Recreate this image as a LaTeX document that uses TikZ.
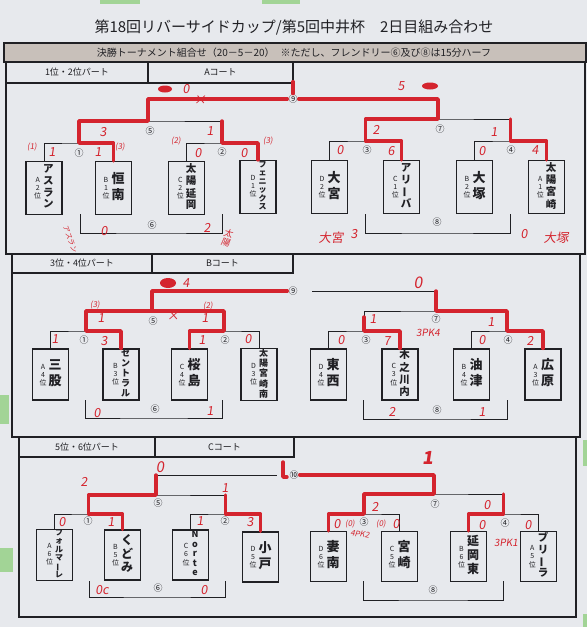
\documentclass[tikz,border=0pt]{standalone}
\usepackage{fontspec}
\usepackage{graphicx}
\setmainfont{Noto Sans CJK JP}
\newfontfamily\redhand[FakeSlant=0.15]{Noto Sans CJK JP}
\definecolor{paper}{RGB}{231,233,237}
\definecolor{band}{RGB}{200,192,186}
\definecolor{ink}{RGB}{32,32,36}
\definecolor{pen}{RGB}{212,36,46}
\definecolor{tape}{RGB}{162,212,150}
\newcommand\vl{\rotatebox[origin=c]{90}{ー}}
\newcommand\tm[5]{%
  {\fontsize{7}{8}\selectfont\begin{tabular}{@{}c@{}}#1\\#2\\位\end{tabular}}%
  \hspace{2pt}%
  {\bfseries\fontsize{#3}{#4}\selectfont\begin{tabular}{@{}c@{}}#5\end{tabular}}}
\tikzset{
  sheet/.style={draw=ink, line width=1.2pt},
  cell/.style={draw=ink, line width=1.1pt},
  hdr/.style={text=ink, font=\fontsize{9}{9}\selectfont, inner sep=1pt},
  brk/.style={draw=ink, line width=0.9pt},
  team/.style={draw=ink, line width=1.2pt, minimum width=36pt, minimum height=52pt, inner sep=0pt, text=ink},
  num/.style={text=ink, font=\fontsize{9}{9}\selectfont, inner sep=1pt},
  win/.style={draw=pen, line width=3.4pt, line join=round, line cap=round},
  score/.style={text=pen, font=\redhand\fontsize{12.5}{12.5}\selectfont, inner sep=0pt},
  small/.style={text=pen, font=\redhand\fontsize{8}{8}\selectfont, inner sep=0pt}
}

\begin{document}
\begin{tikzpicture}[x=1pt,y=-1pt]
		%%%%% START %%%%%
		
		\fill[paper] (0,0) rectangle (587,627);
		\useasboundingbox (0,0) rectangle (587,627);
		
		\fill[tape] (100,0) rectangle (140,4);
		\fill[tape] (262,0) rectangle (300,4);
		\fill[tape] (0,395) rectangle (9,424);
		\fill[tape] (0,548) rectangle (13,572);
		\fill[tape] (583,440) rectangle (587,466);
		\fill[tape] (583,614) rectangle (587,627);
		
		\node[text=ink, font=\fontsize{15}{15}\selectfont] (title) at (294,28) {第18回リバーサイドカップ/第5回中井杯\hspace{1em}2日目組み合わせ};
		\draw[cell, fill=band] (4,43) rectangle (586,62);
		\node[text=ink, font=\fontsize{10}{10}\selectfont] (rule) at (294,52.5) {決勝トーナメント組合せ（20－5－20）\hspace{0.6em}※ただし、フレンドリー⑥及び⑧は15分ハーフ};
		
		%%%%% A %%%%%
		\draw[sheet] (6,62) rectangle (585,254);
		\draw[cell] (6,62) rectangle (148,83);
		\draw[cell] (148,62) rectangle (293,83);
		\node[hdr] (partA) at (77,72.5) {1位・2位パート};
		\node[hdr] (courtA) at (220.5,72.5) {Aコート};
		
		\node[team, minimum height=53pt] (a1) at (44,188) {\tm{A}{2}{10.5}{11.5}{ア\\ス\\ラ\\ン}};
		\node[team, minimum height=53pt] (a2) at (113.5,188) {\tm{B}{1}{13}{16}{恒\\南}};
		\node[team, minimum height=53pt] (a3) at (186.5,188) {\tm{C}{2}{10.5}{11.5}{太\\陽\\延\\岡}};
		\node[team, minimum height=53pt] (a4) at (258,187) {\tm{D}{1}{8}{8.2}{フ\\ェ\\ニ\\ッ\\ク\\ス}};
		\node[team, minimum height=53pt] (b1) at (329.5,187) {\tm{D}{2}{13}{16}{大\\宮}};
		\node[team, minimum height=53pt] (b2) at (401.5,187) {\tm{C}{1}{10.5}{11.5}{ア\\リ\\\vl\\バ}};
		\node[team, minimum height=53pt] (b3) at (474.5,187) {\tm{B}{2}{13}{16}{大\\塚}};
		\node[team, minimum height=53pt] (b4) at (546.5,187) {\tm{A}{1}{10.5}{11.5}{太\\陽\\宮\\崎}};
		
		\coordinate (jA1) at (79,143);
		\coordinate (jA2) at (222,143);
		\coordinate (sA5) at (148,121);
		\coordinate (jA3) at (365.5,141);
		\coordinate (jA4) at (510.5,141);
		\coordinate (sA7) at (438,119);
		\node[num] (nA9) at (293,99) {⑨};
		
		\draw[brk] (a1.north) |- (jA1) -| (a2.north);
		\draw[brk] (a3.north) |- (jA2) -| (a4.north);
		\draw[brk] (jA1) |- (sA5) -| (jA2);
		\draw[brk] (sA5) |- (nA9.west);
		\draw[brk] (b1.north) |- (jA3) -| (b2.north);
		\draw[brk] (b3.north) |- (jA4) -| (b4.north);
		\draw[brk] (jA3) |- (sA7) -| (jA4);
		\draw[brk] (sA7) |- (nA9.east);
		
		\coordinate (fA6a) at (80,214);
		\coordinate (fA6b) at (222,214);
		\coordinate (kA6) at (151,233);
		\draw[brk] (fA6a) |- (kA6) -| (fA6b);
		\coordinate (fA8a) at (365,214);
		\coordinate (fA8b) at (510,214);
		\coordinate (kA8) at (437,233);
		\draw[brk] (fA8a) |- (kA8) -| (fA8b);
		
		\node[num] (mA1) at (79,153) {①};
		\node[num] (mA2) at (222,152) {②};
		\node[num] (mA5) at (150,131) {⑤};
		\node[num] (mA6) at (152,225) {⑥};
		\node[num] (mA3) at (367,150) {③};
		\node[num] (mA4) at (511,150) {④};
		\node[num] (mA7) at (440,129) {⑦};
		\node[num] (mA8) at (437,222) {⑧};
		
		\draw[win] (a2.north) |- (jA1) |- (sA5) |- (nA9.west);
		\draw[win] (a4.north) |- (jA2) -- (jA2 |- sA5);
		\draw[win] (b2.north) |- (jA3) |- (sA7) |- (nA9.east);
		\draw[win] (b4.north) |- (jA4) -- (jA4 |- sA7);
		\draw[win] (nA9.north) -- ++(0,-12);
		
		\node[small] (rA1) at (32,147) {(1)};
		\node[score] (rA2) at (52,152) {1};
		\node[score] (rA3) at (98,152) {1};
		\node[small] (rA4) at (120,147) {(3)};
		\node[score] (rA5) at (103,132) {3};
		\node[small] (rA6) at (176,141) {(2)};
		\node[score] (rA7) at (210,131) {1};
		\node[score] (rA8) at (198,153) {0};
		\node[score] (rA9) at (244,153) {0};
		\node[small] (rA10) at (268,141) {(3)};
		\node[score] (rA11) at (104,231) {0};
		\node[score] (rA12) at (207,228) {2};
		\node[small, font=\redhand\fontsize{7}{7}\selectfont, rotate=-70] (rA13) at (70,239) {アスラン};
		\node[small, font=\redhand\fontsize{9}{10}\selectfont, align=center, rotate=-15] (rA14) at (227,238) {太\\陽};
		\fill[pen] (165,89) ellipse (7 and 3.5);
		\node[score] (rA15) at (186,89) {0};
		\node[score] (rA16) at (200,100) {×};
		\node[score] (rA17) at (401,86) {5};
		\fill[pen] (430,86) ellipse (8 and 3.5);
		\node[score] (rA18) at (376,130) {2};
		\node[score] (rA19) at (494,132) {1};
		\node[score] (rA20) at (340,150) {0};
		\node[score] (rA21) at (391,151) {6};
		\node[score] (rA22) at (482,151) {0};
		\node[score] (rA23) at (535,150) {4};
		\node[score] (rA24) at (331,238) {大宮};
		\node[score] (rA25) at (354,234) {3};
		\node[score] (rA26) at (524,234) {0};
		\node[score] (rA27) at (556,238) {大塚};
		
		%%%%% B %%%%%
		\draw[sheet] (12,254) rectangle (580,437);
		\draw[cell] (12,254) rectangle (152,273);
		\draw[cell] (152,254) rectangle (293,273);
		\node[hdr] (partB) at (82,263.5) {3位・4位パート};
		\node[hdr] (courtB) at (222.5,263.5) {Bコート};
		
		\node[team, minimum height=51pt] (c1) at (50.5,374.5) {\tm{A}{4}{13}{16}{三\\股}};
		\node[team, minimum height=51pt] (c2) at (121,374.5) {\tm{B}{3}{9}{9.5}{セ\\ン\\ト\\ラ\\ル}};
		\node[team, minimum height=51pt] (c3) at (189.5,374.5) {\tm{C}{4}{13}{16}{桜\\島}};
		\node[team, minimum height=51pt] (c4) at (259,374.5) {\tm{D}{3}{9}{9.5}{太\\陽\\宮\\崎\\南}};
		\node[team, minimum height=51pt] (d1) at (328.5,374.5) {\tm{D}{4}{13}{16}{東\\西}};
		\node[team, minimum height=51pt] (d2) at (400,374.5) {\tm{C}{3}{10.5}{11.5}{木\\之\\川\\内}};
		\node[team, minimum height=51pt] (d3) at (471.5,374.5) {\tm{B}{4}{13}{16}{油\\津}};
		\node[team, minimum height=51pt] (d4) at (543,374.5) {\tm{A}{3}{13}{16}{広\\原}};
		
		\coordinate (jB1) at (86,331);
		\coordinate (jB2) at (224,331);
		\coordinate (sB5) at (152,311);
		\coordinate (jB3) at (364,331);
		\coordinate (jB4) at (507,331);
		\coordinate (sB7) at (436,311);
		\coordinate (gB9) at (312,291);
		\node[num] (nB9) at (293,291) {⑨};
		
		\draw[brk] (c1.north) |- (jB1) -| (c2.north);
		\draw[brk] (c3.north) |- (jB2) -| (c4.north);
		\draw[brk] (jB1) |- (sB5) -| (jB2);
		\draw[brk] (sB5) |- (nB9.west);
		\draw[brk] (d1.north) |- (jB3) -| (d2.north);
		\draw[brk] (d3.north) |- (jB4) -| (d4.north);
		\draw[brk] (jB3) |- (sB7) -| (jB4);
		\draw[brk] (sB7) |- (gB9);
		
		\coordinate (fB6a) at (85,400);
		\coordinate (fB6b) at (222,400);
		\coordinate (kB6) at (154,418);
		\draw[brk] (fB6a) |- (kB6) -| (fB6b);
		\coordinate (fB8a) at (363,400);
		\coordinate (fB8b) at (507,400);
		\coordinate (kB8) at (435,419);
		\draw[brk] (fB8a) |- (kB8) -| (fB8b);
		
		\node[num] (mB1) at (84,340) {①};
		\node[num] (mB2) at (225,340) {②};
		\node[num] (mB5) at (153,321) {⑤};
		\node[num] (mB6) at (155,409) {⑥};
		\node[num] (mB3) at (366,340) {③};
		\node[num] (mB4) at (508,340) {④};
		\node[num] (mB7) at (436,319) {⑦};
		\node[num] (mB8) at (437,410) {⑧};
		
		\draw[win] (c2.north) |- (jB1) |- (sB5) |- (nB9.west);
		\draw[win] (c3.north) |- (jB2) |- (sB5);
		\draw[win] (d4.north) |- (jB4) |- (sB7) -- (sB7 |- gB9);
		\draw[win] (d2.north) |- (jB3) -- ++(0,-14);
		
		\fill[pen] (168,283) ellipse (8 and 5);
		\node[score] (rB1) at (186,283) {4};
		\node[small] (rB2) at (95,305) {(3)};
		\node[small] (rB3) at (208,306) {(2)};
		\node[score] (rB4) at (101,318) {1};
		\node[score] (rB5) at (205,318) {1};
		\node[score] (rB6) at (173,316) {×};
		\node[score] (rB7) at (55,339) {1};
		\node[score] (rB8) at (104,341) {3};
		\node[score] (rB9) at (202,340) {1};
		\node[score] (rB10) at (248,339) {0};
		\node[score] (rB11) at (97,413) {0};
		\node[score] (rB12) at (210,411) {1};
		\node[score, font=\redhand\fontsize{16}{16}\selectfont] (rB13) at (418,283) {0};
		\node[score] (rB14) at (373,319) {1};
		\node[score, font=\redhand\fontsize{10}{10}\selectfont] (rB15) at (428,333) {3PK4};
		\node[score] (rB16) at (491,322) {1};
		\node[score] (rB17) at (341,340) {0};
		\node[score] (rB18) at (387,341) {7};
		\node[score] (rB19) at (482,340) {0};
		\node[score] (rB20) at (530,341) {2};
		\node[score] (rB21) at (392,412) {2};
		\node[score] (rB22) at (482,412) {1};
		
		%%%%% C %%%%%
		\draw[sheet] (19,437) rectangle (576,617);
		\draw[cell] (19,437) rectangle (155,457);
		\draw[cell] (155,437) rectangle (294,457);
		\node[hdr] (partC) at (87,447) {5位・6位パート};
		\node[hdr] (courtC) at (224.5,447) {Cコート};
		
		\node[team, minimum height=50pt] (e1) at (54.5,555) {\tm{A}{6}{8}{8.2}{フ\\ォ\\ル\\マ\\\vl\\レ}};
		\node[team, minimum height=50pt] (e2) at (122.5,555) {\tm{B}{5}{12}{13.5}{く\\ど\\み}};
		\node[team, minimum height=50pt] (e3) at (190.5,555) {\tm{C}{6}{9}{9.5}{N\\o\\r\\t\\e}};
		\node[team, minimum height=50pt] (e4) at (260.5,557) {\tm{D}{5}{13}{16}{小\\戸}};
		\node[team, minimum height=50pt] (f1) at (328.5,556.5) {\tm{D}{6}{13}{16}{妻\\南}};
		\node[team, minimum height=50pt] (f2) at (399.5,556.5) {\tm{C}{5}{13}{16}{宮\\崎}};
		\node[team, minimum height=50pt] (f3) at (468.5,556.5) {\tm{B}{6}{12}{13.5}{延\\岡\\東}};
		\node[team, minimum height=50pt] (f4) at (538.5,556.5) {\tm{A}{5}{10.5}{11.5}{ブ\\リ\\\vl\\ラ}};
		
		\coordinate (jC1) at (88.5,514);
		\coordinate (jC2) at (225.5,514);
		\coordinate (sC5) at (156,495);
		\coordinate (jC3) at (364,514);
		\coordinate (jC4) at (503.5,514);
		\coordinate (sC7) at (434,494);
		\coordinate (gC10) at (277,475);
		\node[num] (nC10) at (294,475) {⑩};
		
		\draw[brk] (e1.north) |- (jC1) -| (e2.north);
		\draw[brk] (e3.north) |- (jC2) -| (e4.north);
		\draw[brk] (jC1) |- (sC5) -| (jC2);
		\draw[brk] (sC5) |- (gC10);
		\draw[brk] (f1.north) |- (jC3) -| (f2.north);
		\draw[brk] (f3.north) |- (jC4) -| (f4.north);
		\draw[brk] (jC3) |- (sC7) -| (jC4);
		\draw[brk] (sC7) |- (nC10.east);
		
		\coordinate (fC6a) at (89,581);
		\coordinate (fC6b) at (225,581);
		\coordinate (kC6) at (157,597);
		\draw[brk] (fC6a) |- (kC6) -| (fC6b);
		\coordinate (fC8a) at (363,581);
		\coordinate (fC8b) at (503,581);
		\coordinate (kC8) at (433,600);
		\draw[brk] (fC8a) |- (kC8) -| (fC8b);
		
		\node[num] (mC1) at (88,521) {①};
		\node[num] (mC2) at (225,521) {②};
		\node[num] (mC5) at (158,503) {⑤};
		\node[num] (mC6) at (158,588) {⑥};
		\node[num] (mC3) at (364,522) {③};
		\node[num] (mC4) at (505,523) {④};
		\node[num] (mC7) at (435,504) {⑦};
		\node[num] (mC8) at (433,590) {⑧};
		
		\draw[win] (e2.north) |- (jC1) |- (sC5) -- (sC5 |- gC10);
		\draw[win] (e4.north) |- (jC2) -- (jC2 |- sC5);
		\draw[win] (f1.north) |- (jC3) |- (sC7) |- (nC10.east);
		\draw[win] (f3.north) |- (jC4) -- (jC4 |- sC7);
		\draw[win] (283,462) -- (283,477) -- (287,477);
		
		\node[score, font=\redhand\fontsize{15}{15}\selectfont] (rC1) at (160,467) {0};
		\node[score] (rC2) at (84,482) {2};
		\node[score] (rC3) at (225,488) {1};
		\node[score] (rC4) at (62,522) {0};
		\node[score] (rC5) at (111,522) {1};
		\node[score] (rC6) at (200,521) {1};
		\node[score] (rC7) at (250,522) {3};
		\node[score] (rC8) at (102,590) {0c};
		\node[score] (rC9) at (204,590) {0};
		\node[score, font=\redhand\bfseries\fontsize{18}{18}\selectfont] (rC10) at (428,458) {1};
		\node[score] (rC11) at (375,507) {2};
		\node[score] (rC12) at (487,505) {0};
		\node[score] (rC13) at (337,524) {0};
		\node[small] (rC14) at (350,524) {(0)};
		\node[small] (rC15) at (381,524) {(0)};
		\node[score] (rC16) at (396,524) {0};
		\node[small, rotate=-10] (rC17) at (360,534) {4PK2};
		\node[score] (rC18) at (482,525) {0};
		\node[score] (rC19) at (528,525) {0};
		\node[score, font=\redhand\fontsize{10}{10}\selectfont] (rC20) at (506,543) {3PK1};
		
		%%%%% END %%%%%
\end{tikzpicture}
\end{document}
